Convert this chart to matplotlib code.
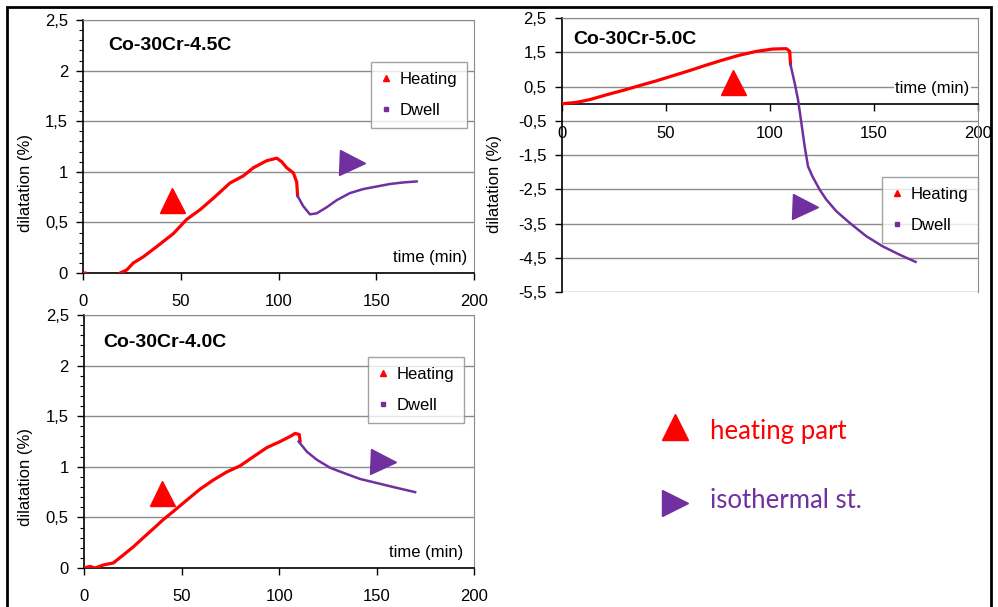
import numpy as np
import matplotlib
matplotlib.use("Agg")
import matplotlib.pyplot as plt
from matplotlib.lines import Line2D
from matplotlib.patches import Rectangle
import matplotlib.transforms as mtransforms

plt.rcParams["font.family"] = ["Liberation Sans", "DejaVu Sans"]

RED = "#FF0000"
PURPLE = "#7030A0"
GRID = "#8C8C8C"

# --- Co-30Cr-4.5C (top left) ---
heat45_t = [0, 1.2, np.nan, 18.8, 22.2, 25.6, 30.7, 37.5, 46.1, 52.9, 59.7, 66.6, 75.1,
            81.9, 87.0, 93.9, 99.0, 101.5, 104.1, 107.5, 109.2, 109.7]
heat45_d = [0, 0, np.nan, 0.0, 0.03, 0.10, 0.16, 0.26, 0.39, 0.53, 0.625, 0.74, 0.89,
            0.96, 1.04, 1.11, 1.135, 1.10, 1.04, 0.99, 0.90, 0.76]
dwell45_t = [109.7, 112.6, 116.0, 119.5, 124.6, 129.7, 136.5, 143.3, 150.2, 157.0, 163.8, 170.6]
dwell45_d = [0.76, 0.66, 0.58, 0.59, 0.65, 0.72, 0.79, 0.83, 0.855, 0.88, 0.895, 0.905]

# --- Co-30Cr-4.0C (bottom left) ---
heat40_t = [0, 3.1, 5.6, 9.9, 15.0, 20.2, 25.3, 30.4, 35.6, 40.7, 45.8, 52.6, 59.5, 66.3,
            73.2, 80.0, 86.8, 93.7, 100.5, 105.6, 108.2, 110.3, 110.8]
heat40_d = [0, 0.016, 0.0, 0.03, 0.05, 0.13, 0.21, 0.30, 0.39, 0.48, 0.56, 0.67, 0.78, 0.87,
            0.95, 1.01, 1.10, 1.19, 1.25, 1.30, 1.33, 1.32, 1.25]
dwell40_t = [110.0, 114.2, 119.3, 126.2, 133.0, 141.5, 150.1, 158.6, 169.7]
dwell40_d = [1.25, 1.15, 1.07, 0.99, 0.94, 0.88, 0.84, 0.80, 0.75]

# --- Co-30Cr-5.0C (top right) ---
heat50_t = [0, 6.9, 13.3, 21.3, 29.3, 37.3, 45.4, 53.4, 61.4, 69.4, 77.4, 85.4, 93.4,
            101.4, 107.9, 109.5, 109.9]
heat50_d = [0, 0.04, 0.12, 0.26, 0.39, 0.53, 0.67, 0.82, 0.97, 1.13, 1.28, 1.42, 1.53,
            1.60, 1.61, 1.53, 1.14]
dwell50_t = [109.9, 111.9, 113.5, 115.1, 116.7, 118.3, 120.4, 123.9, 127.1, 131.9, 138.3,
             146.3, 154.3, 162.3, 170.0]
dwell50_d = [1.14, 0.60, 0.12, -0.56, -1.25, -1.83, -2.12, -2.51, -2.80, -3.14, -3.48,
             -3.87, -4.17, -4.41, -4.62]

# annotation markers (data coords)
up45 = (45.5, 0.72)
right45 = (137.6, 1.09)
up40 = (40.0, 0.74)
right40 = (153.0, 1.05)
up50 = (82.0, 0.63)
right50 = (117.0, -3.02)

xticks = [0, 50, 100, 150, 200]
yticks_small = [0, 0.5, 1, 1.5, 2, 2.5]
ylabels_small = ["0", "0,5", "1", "1,5", "2", "2,5"]
yticks_big = [2.5, 1.5, 0.5, -0.5, -1.5, -2.5, -3.5, -4.5, -5.5]
ylabels_big = ["2,5", "1,5", "0,5", "-0,5", "-1,5", "-2,5", "-3,5", "-4,5", "-5,5"]

fig = plt.figure(figsize=(9.98, 6.07), dpi=100)


def style_axes(ax, yticks, ylabels, minor=True):
    ax.set_xlim(0, 200)
    ax.set_xticks(xticks)
    ax.set_yticks(yticks)
    ax.set_yticklabels(ylabels)
    ax.set_ylim(min(yticks), max(yticks))
    if minor:
        ax.set_yticks(np.arange(0, 2.51, 0.1), minor=True)
    ax.tick_params(axis="both", which="major", labelsize=12, direction="out", length=5, width=1)
    ax.tick_params(axis="x", which="major", pad=10)
    ax.tick_params(axis="y", which="major", pad=6)
    ax.tick_params(axis="y", which="minor", direction="out", length=3, width=0.8)
    ax.grid(axis="y", color=GRID, lw=1)
    ax.set_axisbelow(True)
    for s in ["top", "right"]:
        ax.spines[s].set_color(GRID)
    for s in ["left", "bottom"]:
        ax.spines[s].set_color("black")
        ax.spines[s].set_linewidth(1.2)
    ax.set_ylabel("dilatation (%)", fontsize=12)


def add_legend(ax, loc_box):
    handles = [Line2D([], [], ls="none", marker="^", ms=4, color=RED, label="Heating"),
               Line2D([], [], ls="none", marker="s", ms=3, color=PURPLE, label="Dwell")]
    leg = ax.legend(handles=handles, loc="upper left", bbox_to_anchor=loc_box,
                    borderaxespad=0, fontsize=12, frameon=True, fancybox=False,
                    edgecolor=GRID, handlelength=0.6, handletextpad=0.5,
                    labelspacing=0.95, borderpad=0.6)
    leg.get_frame().set_linewidth(1)


def panel(ax, ht, hd, dt, dd, up, right):
    ax.plot(ht, hd, color=RED, lw=2.3, solid_capstyle="round", zorder=3)
    ax.plot(dt, dd, color=PURPLE, lw=1.8, zorder=3)
    ax.plot([up[0]], [up[1]], marker="^", ms=18, color=RED, ls="none", zorder=4)
    ax.plot([right[0]], [right[1]], marker=">", ms=18, color=PURPLE, ls="none", zorder=4)


# top left
ax1 = fig.add_axes([0.0835, 0.5502, 0.3915, 0.4168])
panel(ax1, heat45_t, heat45_d, dwell45_t, dwell45_d, up45, right45)
style_axes(ax1, yticks_small, ylabels_small)
ax1.yaxis.set_label_coords(-0.13, 0.356)
ax1.text(0.064, 0.90, "Co-30Cr-4.5C", transform=ax1.transAxes, fontsize=14,
         fontweight="bold", va="center", ha="left")
ax1.text(0.982, 0.06, "time (min)", transform=ax1.transAxes, fontsize=12, ha="right", va="center")
add_legend(ax1, (0.737, 0.834))

# bottom left
ax3 = fig.add_axes([0.0842, 0.0642, 0.391, 0.4168])
panel(ax3, heat40_t, heat40_d, dwell40_t, dwell40_d, up40, right40)
style_axes(ax3, yticks_small, ylabels_small)
ax3.yaxis.set_label_coords(-0.13, 0.36)
ax3.text(0.049, 0.89, "Co-30Cr-4.0C", transform=ax3.transAxes, fontsize=14,
         fontweight="bold", va="center", ha="left")
ax3.text(0.972, 0.063, "time (min)", transform=ax3.transAxes, fontsize=12, ha="right", va="center")
add_legend(ax3, (0.728, 0.834))

# top right
ax2 = fig.add_axes([0.5631, 0.519, 0.4168, 0.451])
panel(ax2, heat50_t, heat50_d, dwell50_t, dwell50_d, up50, right50)
style_axes(ax2, yticks_big, ylabels_big, minor=False)
ax2.tick_params(axis="x", which="major", pad=11)
ax2.spines["bottom"].set_position(("data", 0))
ax2.spines["bottom"].set_zorder(2.5)
ax2.yaxis.set_label_coords(-0.144, 0.394)
ax2.text(0.026, 0.923, "Co-30Cr-5.0C", transform=ax2.transAxes, fontsize=14,
         fontweight="bold", va="center", ha="left")
blend = mtransforms.blended_transform_factory(ax2.transAxes, ax2.transData)
ax2.text(0.98, 0.46, "time (min)", transform=blend, fontsize=12, ha="right", va="center",
         bbox=dict(facecolor="white", edgecolor="none", pad=1), zorder=2.6)
add_legend(ax2, (0.77, 0.42))

# explanation of the big markers
fx = 675 / 998
tx = 710 / 998
fig.add_artist(Line2D([fx], [1 - 427 / 607], marker="^", ms=19, color=RED, ls="none",
                      transform=fig.transFigure))
fig.add_artist(Line2D([fx], [1 - 503 / 607], marker=">", ms=19, color=PURPLE, ls="none",
                      transform=fig.transFigure))
fig.text(tx, 1 - 432 / 607, "heating part", color=RED, fontsize=18.5,
         family=["Lato", "DejaVu Sans"], va="center", ha="left")
fig.text(tx, 1 - 500 / 607, "isothermal st.", color=PURPLE, fontsize=18.5,
         family=["Lato", "DejaVu Sans"], va="center", ha="left")

# outer frame
fig.add_artist(Rectangle((7 / 998, -0.02), (991 - 7) / 998, 0.02 + (607 - 6.5) / 607,
                         fill=False, edgecolor="black", lw=2, transform=fig.transFigure))

fig.savefig("out.png", dpi=100)
